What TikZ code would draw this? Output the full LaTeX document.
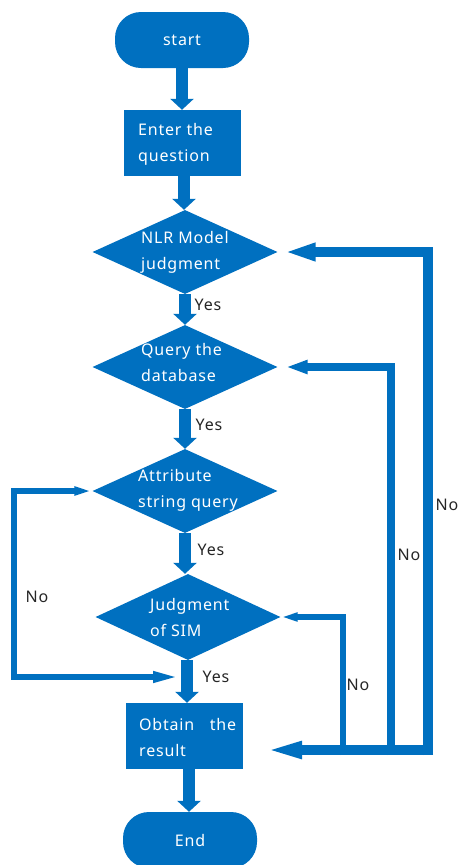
\documentclass[tikz,border=0pt]{standalone}
\usepackage{fontspec}
\setmainfont{Noto Sans}
\newfontfamily\dxfont{Noto Sans}[LetterSpace=5]
\usetikzlibrary{arrows.meta,shapes.geometric,calc}
\definecolor{fcblue}{RGB}{0,112,192}
\definecolor{lblgray}{RGB}{38,38,38}
\begin{document}
\begin{tikzpicture}[x=1pt,y=-1pt,
  term/.style={fill=fcblue, rounded corners=26pt, minimum width=134pt, minimum height=56pt, text=white, font=\dxfont\fontsize{16}{26}\selectfont, inner sep=0pt},
  proc/.style={fill=fcblue, minimum width=117pt, minimum height=66pt, inner sep=0pt},
  dec/.style={fill=fcblue, diamond, inner sep=0pt, minimum width=185pt, minimum height=84pt},
  intext/.style={text=white, font=\dxfont\fontsize{16}{26}\selectfont, align=left, inner sep=0pt, anchor=west},
  lbl/.style={text=lblgray, font=\dxfont\fontsize{16}{20}\selectfont, inner sep=0pt},
  flow/.style={draw=fcblue, line width=12pt, -{Triangle[length=11pt,width=23pt]}},
  backline/.style={draw=fcblue, line width=#1}
]
\fill[white] (0,0) rectangle (459,865);
\useasboundingbox (0,0) rectangle (459,865);

% nodes
\node[term] (start) at (182,40) {start};
\node[proc] (enter) at (182.5,143) {};
\node[intext] (entert) at (138,144) {Enter the\\question};
\node[dec] (nlr) at (185,252) {};
\node[intext] (nlrt) at (141,252) {NLR Model\\judgment};
\node[dec] (query) at (185,367) {};
\node[intext] (queryt) at (141,362) {Query the\\database};
\node[dec] (attr) at (185,491) {};
\node[intext] (attrt) at (138,490) {Attribute\\string query};
\node[dec, minimum height=86pt] (sim) at (188,617) {};
\node[intext] (simt) at (150,617) {Judgment\\of SIM};
\node[proc] (obtain) at (184.5,736) {};
\node[intext] (obtaint) at (139,737) {\makebox[97pt][s]{Obtain the}\\result};
\node[term] (end) at (190,840) {End};

% coordinates for loops
\coordinate (rNLR) at (428,755);
\coordinate (rQ) at (391,755);
\coordinate (rS) at (343,755);
\coordinate (retStart) at (433,750);
\coordinate (retTip) at (253,750);
\coordinate (lcorner) at (14,677);
\coordinate (sjoin) at (181,677);

% main flow
\draw[flow] (start.south) -- (enter.north -| start.south);
\draw[flow] (enter.south -| 184,0) -- (nlr.north -| 184,0);
\draw[flow] (nlr.south) -- (query.north);
\draw[flow] (query.south) -- (attr.north);
\draw[flow] (attr.south) -- (attr.south |- sim.north);
\draw[flow] (sim.south -| 187,0) -- (obtain.north -| 187,0);
\draw[flow] (obtain.south -| 189,0) -- (end.north -| 189,0);

% No loops
\draw[backline=10pt, -{Triangle[length=38pt,width=15pt]}] (rNLR) |- (nlr.east);
\draw[backline=8pt, -{Triangle[length=30pt,width=11pt]}] (rQ) |- (query.east);
\draw[backline=6pt, -{Triangle[length=17pt,width=8pt]}] (rS) |- (sim.east);
\draw[backline=10pt, -{Triangle[length=49pt,width=14pt]}] (retStart) -- (retTip);
\draw[backline=6pt, {Triangle[length=18pt,width=8pt]}-{Triangle[length=28pt,width=10pt]}] (attr.west) -| (lcorner) -- (sjoin);

% labels
\node[lbl] (y1) at (208,305) {Yes};
\node[lbl] (y2) at (209,425) {Yes};
\node[lbl] (y3) at (211,550) {Yes};
\node[lbl] (y4) at (216,677) {Yes};
\node[lbl] (n1) at (37,597) {No};
\node[lbl] (n2) at (358,685) {No};
\node[lbl] (n3) at (409,555) {No};
\node[lbl] (n4) at (447,505) {No};
\end{tikzpicture}
\end{document}
